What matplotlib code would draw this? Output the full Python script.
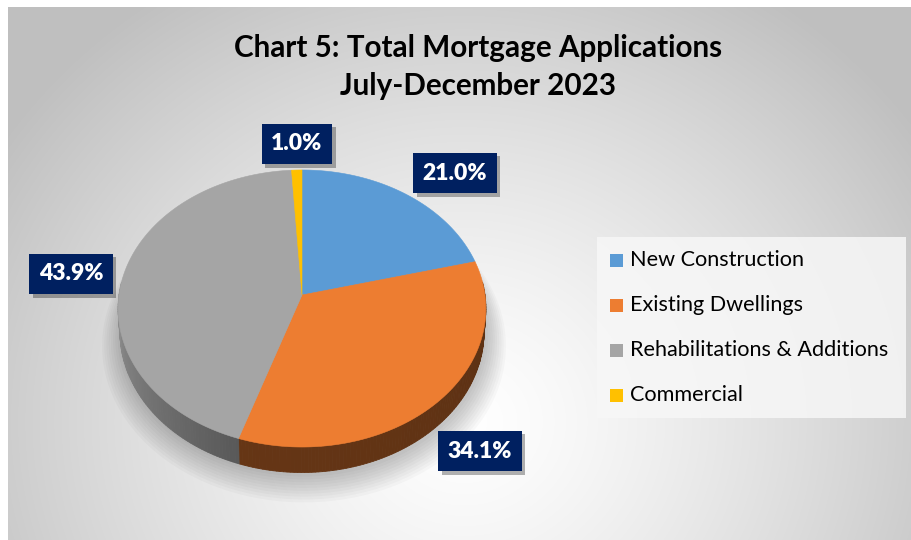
import numpy as np
import matplotlib
matplotlib.use("Agg")
import matplotlib.pyplot as plt
from matplotlib.patches import Polygon, Rectangle
import matplotlib.patheffects as pe
from matplotlib.colors import to_rgb

# ---------------- data ----------------
categories = ["New Construction", "Existing Dwellings", "Rehabilitations & Additions", "Commercial"]
shares = [21.0, 34.1, 43.9, 1.0]
title_lines = ["Chart 5: Total Mortgage Applications", "July-December 2023"]

# ---------------- style ----------------
colors = ["#5B9BD5", "#ED7D31", "#A5A5A5", "#FFC000"]
label_pos = [(455, 173), (480, 451), (71, 274), (297, 144)]   # label box centres (px)
FONT = "Lato"

W, H = 911, 540
fig = plt.figure(figsize=(W / 100, H / 100), dpi=100, facecolor="white")
ax = fig.add_axes([0, 0, 1, 1])
ax.set_xlim(0, W)
ax.set_ylim(H, 0)
ax.axis("off")

# background radial gradient
yy, xx = np.mgrid[0:H, 0:W]
t = np.sqrt(((xx - 460) / 560.0) ** 2 + ((yy - 420) / 520.0) ** 2)
t = np.clip(t, 0, 1)
g = 1.0 - 0.25 * t ** 1.3
img = np.dstack([g, g, g])
ax.imshow(img, extent=(8, W, H, 7), zorder=0, interpolation="bilinear")
ax.set_xlim(0, W)
ax.set_ylim(H, 0)

# pie geometry (perspective)
cx, cy = 302, 295
A, B, a, D = 183.0, 137.2, 0.0975, 23.0


def proj(theta, r=1.0, z=0.0):
    th = np.radians(theta)
    u = r * np.sin(th)
    v = -r * np.cos(th)
    den = 1 - a * v
    x = cx + A * u / den * (1 - 0.01 * z)
    y = cy + B * v / den + D * z / den
    return x, y


total = sum(shares)
bounds = np.concatenate([[0], np.cumsum(shares) / total * 360])

# soft shadow below the pie
for k in range(10):
    th = np.linspace(0, 360, 200)
    x, y = proj(th, r=1.0 + 0.012 * k, z=1.0)
    ax.add_patch(Polygon(np.c_[x + 2, y + 4 + 0.8 * k], closed=True, fc="black",
                         ec="none", alpha=0.025, zorder=1))


def side_factor(th, i):
    if i == 2 or i == 3:
        s = np.clip((th - 195) / 75.0, 0, 1)
        return 0.52 + 0.36 * s
    return 0.39 + 0.04 * np.clip((th - 90) / 110.0, 0, 1)


# sides
for i, (t0, t1) in enumerate(zip(bounds[:-1], bounds[1:])):
    n = max(int((t1 - t0) / 1.0), 2)
    ths = np.linspace(t0, t1, n + 1)
    base = np.array(to_rgb(colors[i]))
    for j in range(n):
        ta, tb = ths[j], ths[j + 1]
        mid = 0.5 * (ta + tb)
        if not (85 <= mid % 360 <= 275):
            continue
        x1, y1 = proj(np.array([ta, tb]))
        x2, y2 = proj(np.array([tb, ta]), z=1.0)
        col = np.clip(base * side_factor(mid, i), 0, 1)
        ax.add_patch(Polygon(np.c_[np.r_[x1, x2], np.r_[y1, y2]], closed=True,
                             fc=col, ec=col, lw=0.6, zorder=2))

# top faces
for i, (t0, t1) in enumerate(zip(bounds[:-1], bounds[1:])):
    ths = np.linspace(t0, t1, max(int((t1 - t0) * 2), 4))
    x, y = proj(ths)
    xs = np.r_[cx, x]
    ys = np.r_[cy, y]
    ax.add_patch(Polygon(np.c_[xs, ys], closed=True, fc=colors[i], ec=colors[i],
                         lw=0.4, zorder=3))

# data labels
for i, v in enumerate(shares):
    lx, ly = label_pos[i]
    txt = ax.text(lx, ly, f"{v:.1f}%", ha="center", va="center", color="white",
                  fontsize=16.5, fontweight="heavy", family=FONT, zorder=6,
                  bbox=dict(boxstyle="square,pad=0.42", fc="#002060", ec="none"))
    txt.get_bbox_patch().set_path_effects([
        pe.SimplePatchShadow(offset=(2.5, -2.5), shadow_rgbFace="black", alpha=0.3),
        pe.Normal()])

# title
ax.text(478, 48, title_lines[0], ha="center", va="center", fontsize=21.3,
        fontweight="bold", family=FONT, color="black", zorder=6)
ax.text(478, 86, title_lines[1], ha="center", va="center", fontsize=21.3,
        fontweight="bold", family=FONT, color="black", zorder=6)

# legend
ax.add_patch(Rectangle((597, 237), 309, 181, fc="#f7f7f7", ec="none", alpha=0.85, zorder=4))
for i, name in enumerate(categories):
    yc = 260 + 45 * i
    ax.add_patch(Rectangle((610, yc - 6.5), 13, 13, fc=colors[i], ec="none", zorder=5))
    ax.text(630, yc, name, ha="left", va="center", fontsize=15.6, family=FONT,
            color="black", zorder=6)

fig.savefig("out.png", dpi=100, facecolor="white")
